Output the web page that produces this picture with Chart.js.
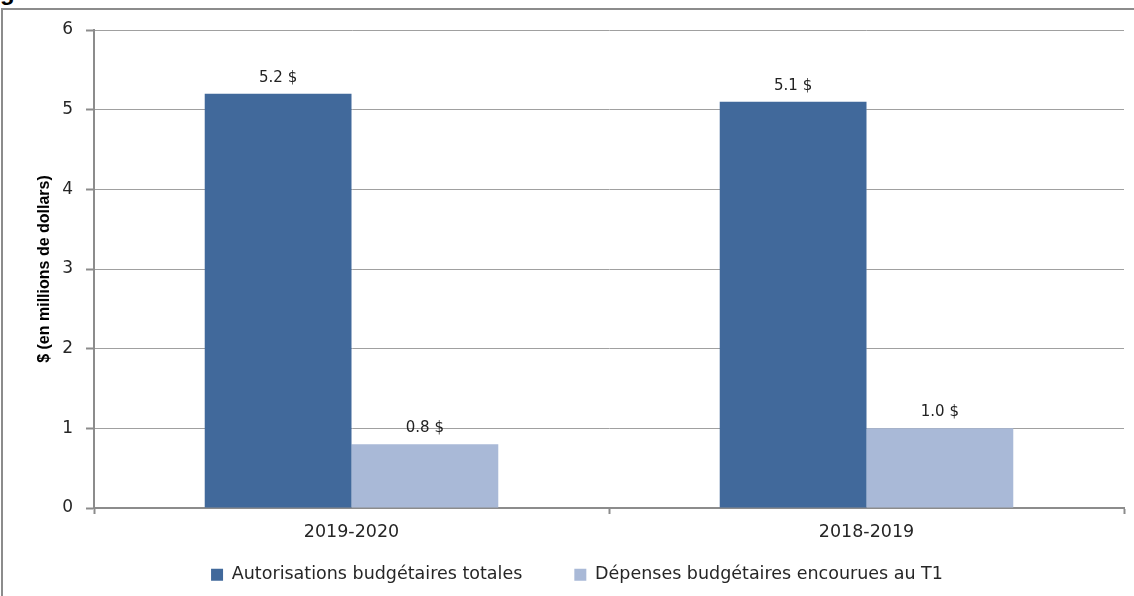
<!DOCTYPE html>
<html>
<head>
<meta charset="utf-8">
<script src="https://cdn.jsdelivr.net/npm/chart.js@4"></script>
<style>
  html, body { margin: 0; padding: 0; background: #fff; }
  #wrap { position: relative; width: 1134px; height: 596px; overflow: hidden; }
  #cadre { position: absolute; left: 1px; top: 8px; width: 1140px; height: 600px;
           border-left: 2px solid #8c8c8c; border-top: 2px solid #8c8c8c; }
  #titre { position: absolute; left: 0; top: -20px; font: bold 24px "Liberation Sans", Arial, sans-serif;
           line-height: 24px; color: #000; }
  #graphique { position: absolute; left: 0; top: 0; }
</style>
</head>
<body>
<div id="wrap">
  <div id="titre">g</div>
  <div id="cadre"></div>
  <canvas id="graphique" width="1134" height="596"></canvas>
</div>
<script>
// exercices
var annees = ["2019-2020", "2018-2019"];
// valeurs en millions de dollars
var autorisations = [5.2, 5.1];
var depenses = [0.8, 1.0];
// etiquettes des barres
var etiquettesAutorisations = ["5.2 $", "5.1 $"];
var etiquettesDepenses = ["0.8 $", "1.0 $"];
// graduations de l'axe Y
var graduationsY = [0, 1, 2, 3, 4, 5, 6];

var policeTexte = "'DejaVu Sans', Verdana, sans-serif";

// affiche la valeur au-dessus de chaque barre
var etiquettesPlugin = {
  id: "etiquettes",
  afterDatasetsDraw: function (chart) {
    var ctx = chart.ctx;
    var textes = [etiquettesAutorisations, etiquettesDepenses];
    ctx.save();
    ctx.font = "15px " + policeTexte;
    ctx.fillStyle = "#222";
    ctx.textAlign = "center";
    ctx.textBaseline = "middle";
    chart.data.datasets.forEach(function (ds, i) {
      chart.getDatasetMeta(i).data.forEach(function (bar, j) {
        ctx.fillText(textes[i][j], bar.x, bar.y - 16);
      });
    });
    ctx.restore();
  }
};

// place la legende comme dans l'original (ligne a y=575)
var legendePlugin = {
  id: "legendeDecalee",
  afterLayout: function (chart) {
    var lg = chart.legend;
    var pad = lg.options.labels.padding;
    lg.left += 15;
    lg.right += 15;
    lg.top = 575 - pad - 9;
    lg.bottom = 596;
    lg.height = lg.bottom - lg.top;
  }
};

var ctx = document.getElementById("graphique");
var monGraphique = new Chart(ctx, {
  type: "bar",
  data: {
    labels: annees,
    datasets: [
      {
        label: "Autorisations budgétaires totales",
        data: autorisations,
        backgroundColor: "#41699b",
        borderWidth: 0
      },
      {
        label: "Dépenses budgétaires encourues au T1",
        data: depenses,
        backgroundColor: "#a9b9d7",
        borderWidth: 0
      }
    ]
  },
  options: {
    responsive: false,
    animation: false,
    layout: {
      padding: { left: 0, right: 10, top: 30, bottom: 0 }
    },
    datasets: {
      bar: { categoryPercentage: 0.57, barPercentage: 1.0 }
    },
    scales: {
      x: {
        grid: {
          drawOnChartArea: false,
          drawTicks: true,
          tickLength: 6,
          tickColor: "#8c8c8c",
          tickWidth: 2
        },
        border: { color: "#8c8c8c", width: 2 },
        ticks: {
          color: "#262626",
          padding: 8,
          font: { family: policeTexte, size: 17.5 }
        },
        afterFit: function (scale) { scale.height = 48; }
      },
      y: {
        min: 0,
        max: 6,
        afterBuildTicks: function (scale) {
          scale.ticks = graduationsY.map(function (v) { return { value: v }; });
        },
        grid: {
          color: "#a0a0a0",
          lineWidth: 1,
          tickLength: 8,
          tickColor: "#8c8c8c",
          tickWidth: 2
        },
        border: { color: "#8c8c8c", width: 2 },
        ticks: {
          color: "#262626",
          padding: 13,
          font: { family: policeTexte, size: 17 }
        },
        title: {
          display: true,
          text: "$ (en millions de dollars)",
          color: "#000",
          padding: { top: 35, bottom: 0 },
          font: { family: "'Liberation Sans', Arial, sans-serif", size: 16, weight: "bold" }
        },
        afterFit: function (scale) { scale.width = 94; }
      }
    },
    plugins: {
      legend: {
        position: "bottom",
        maxHeight: 40,
        labels: {
          boxWidth: 12,
          boxHeight: 12,
          padding: 52,
          color: "#262626",
          font: { family: policeTexte, size: 17.5 }
        }
      },
      tooltip: { enabled: false }
    }
  },
  plugins: [etiquettesPlugin, legendePlugin]
});
</script>
</body>
</html>
